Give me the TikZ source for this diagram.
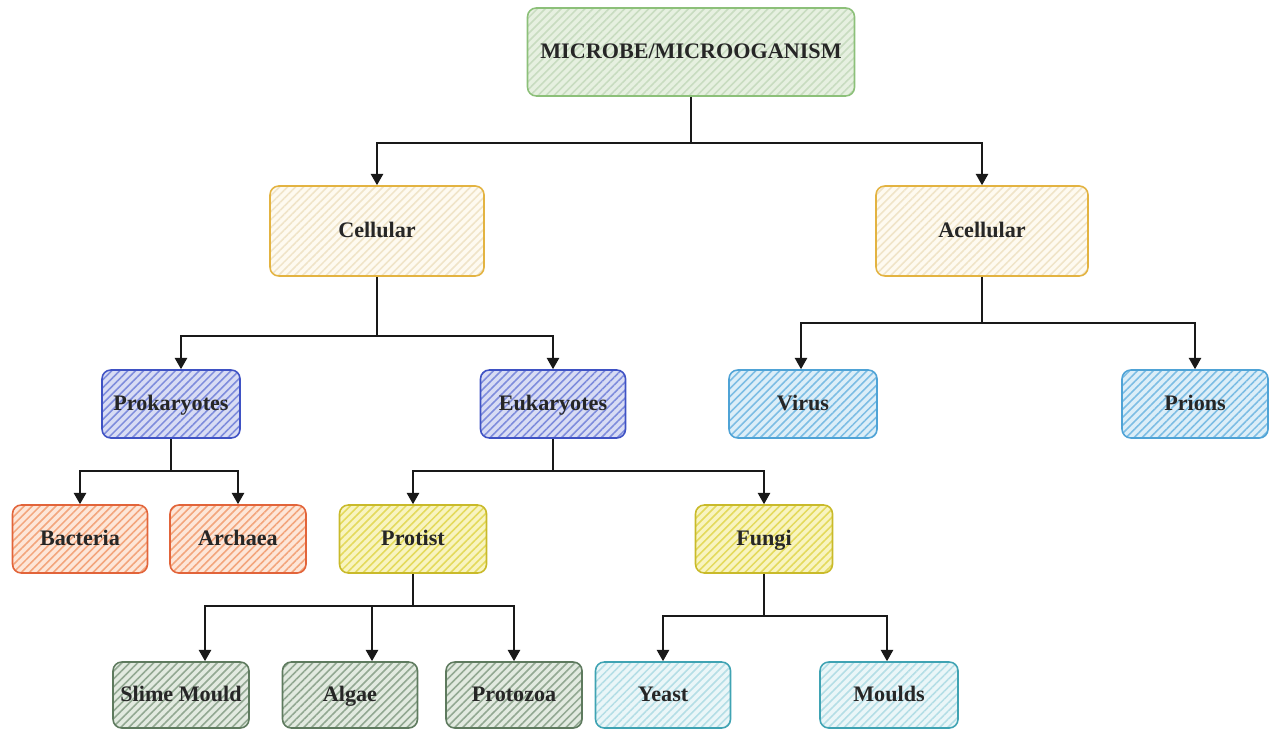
\documentclass[tikz,border=0pt]{standalone}
\usepackage{fontspec}
\setmainfont{Liberation Serif}
\usetikzlibrary{patterns.meta,arrows.meta,calc}
\definecolor{gB}{HTML}{8CC079}\definecolor{gF}{HTML}{E6F0E0}\definecolor{gH}{HTML}{C8DCC0}
\definecolor{oB}{HTML}{E3B341}\definecolor{oF}{HTML}{FEFAF0}\definecolor{oH}{HTML}{F0E4C8}
\definecolor{bB}{HTML}{3F52C4}\definecolor{bF}{HTML}{D8DCF4}\definecolor{bH}{HTML}{7E8CDC}
\definecolor{rB}{HTML}{E2643A}\definecolor{rF}{HTML}{FDE6D8}\definecolor{rH}{HTML}{F3A57C}
\definecolor{yB}{HTML}{C9BA2A}\definecolor{yF}{HTML}{F8F4C0}\definecolor{yH}{HTML}{E4DA5C}
\definecolor{sB}{HTML}{5E7A5E}\definecolor{sF}{HTML}{E2EAE0}\definecolor{sH}{HTML}{92A892}
\definecolor{vB}{HTML}{4FA3D6}\definecolor{vF}{HTML}{DCEEF8}\definecolor{vH}{HTML}{7CBDE4}
\definecolor{cB}{HTML}{3FA3B3}\definecolor{cF}{HTML}{EAF6F8}\definecolor{cH}{HTML}{B4DEE6}
\tikzset{
  box/.style n args={5}{draw=#3, line width=0.9pt, rounded corners=5pt,
    preaction={fill=#4}, pattern={Lines[angle=45,distance=3.2pt,line width=0.9pt]}, pattern color=#5,
    minimum width=#1*0.02cm, minimum height=#2*0.02cm, inner sep=0pt,
    text height=8.4pt, text depth=0.6pt,
    font=\fontsize{12.6}{15}\selectfont\bfseries, text=black!85},
  arr/.style={draw=black!90, line width=1.2pt, -{Triangle[width=7pt,length=6.5pt]}},
  ln/.style={draw=black!90, line width=1.2pt}
}
\begin{document}
\begin{tikzpicture}[x=0.02cm,y=-0.02cm]
\useasboundingbox (0,0) rectangle (1270,729);
\node[box={327}{88}{gB}{gF}{gH}] (mic) at (691,52) {MICROBE/MICROOGANISM};
\node[box={214}{90}{oB}{oF}{oH}] (cel) at (377,231) {Cellular};
\node[box={212}{90}{oB}{oF}{oH}] (ace) at (982,231) {Acellular};
\node[box={138}{68}{bB}{bF}{bH}] (pro) at (171,404) {Prokaryotes};
\node[box={145}{68}{bB}{bF}{bH}] (euk) at (553,404) {Eukaryotes};
\node[box={148}{68}{vB}{vF}{vH}] (vir) at (803,404) {Virus};
\node[box={146}{68}{vB}{vF}{vH}] (pri) at (1195,404) {Prions};
\node[box={135}{68}{rB}{rF}{rH}] (bac) at (80,539) {Bacteria};
\node[box={136}{68}{rB}{rF}{rH}] (arc) at (238,539) {Archaea};
\node[box={147}{68}{yB}{yF}{yH}] (prt) at (413,539) {Protist};
\node[box={137}{68}{yB}{yF}{yH}] (fun) at (764,539) {Fungi};
\node[box={136}{66}{sB}{sF}{sH}] (sli) at (181,695) {Slime Mould};
\node[box={135}{66}{sB}{sF}{sH}] (alg) at (350,695) {Algae};
\node[box={136}{66}{sB}{sF}{sH}] (prz) at (514,695) {Protozoa};
\node[box={135}{66}{cB}{cF}{cH}] (yea) at (663,695) {Yeast};
\node[box={138}{66}{cB}{cF}{cH}] (mou) at (889,695) {Moulds};
% connectors
\coordinate (j1) at ($(mic.south)+(0,46)$);
\draw[ln] (mic.south) -- (j1);
\draw[arr] (j1) -| (cel.north);
\draw[arr] (j1) -| (ace.north);
\coordinate (j2) at ($(cel.south)+(0,59)$);
\draw[ln] (cel.south) -- (j2);
\draw[arr] (j2) -| ([xshift=10*0.02cm]pro.north);
\draw[arr] (j2) -| (euk.north);
\coordinate (j3) at ($(ace.south)+(0,46)$);
\draw[ln] (ace.south) -- (j3);
\draw[arr] (j3) -| ([xshift=-2*0.02cm]vir.north);
\draw[arr] (j3) -| (pri.north);
\coordinate (j4) at ($(pro.south)+(0,32)$);
\draw[ln] (pro.south) -- (j4);
\draw[arr] (j4) -| (bac.north);
\draw[arr] (j4) -| (arc.north);
\coordinate (j5) at ($(euk.south)+(0,32)$);
\draw[ln] (euk.south) -- (j5);
\draw[arr] (j5) -| (prt.north);
\draw[arr] (j5) -| (fun.north);
\coordinate (j6) at ($(prt.south)+(0,32)$);
\draw[ln] (prt.south) -- (j6);
\draw[arr] (j6) -| ([xshift=24*0.02cm]sli.north);
\draw[arr] (j6) -| ([xshift=22*0.02cm]alg.north);
\draw[arr] (j6) -| (prz.north);
\coordinate (j7) at ($(fun.south)+(0,42)$);
\draw[ln] (fun.south) -- (j7);
\draw[arr] (j7) -| (yea.north);
\draw[arr] (j7) -| ([xshift=-2*0.02cm]mou.north);
\end{tikzpicture}
\end{document}
